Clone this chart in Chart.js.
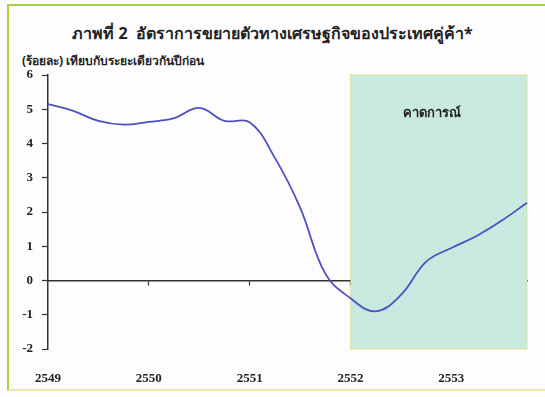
<!DOCTYPE html>
<html>
<head>
<meta charset="utf-8">
<script src="https://cdn.jsdelivr.net/npm/chart.js@4.4.1/dist/chart.umd.min.js"></script>
<style>
  html, body { margin: 0; padding: 0; background: #fff; }
  #wrap {
    position: relative; width: 545px; height: 397px; overflow: hidden;
    background: #fdfdfd;
  }
  #frame {
    position: absolute; left: 7px; top: 4px; width: 545px; height: 383px;
    border-left: 2px solid #a9d04a; border-top: 2px solid #a9d04a;
    border-bottom: 2px solid #efe9a8;
  }
  #title {
    position: absolute; left: 0; width: 545px; top: 21px; text-align: center;
    font: bold 16px "Noto Sans", "DejaVu Sans", sans-serif; color: #222;
  }
  #subtitle {
    position: absolute; left: 22px; top: 51px;
    font: bold 12px "Noto Sans", "DejaVu Sans", sans-serif; color: #222;
  }
  canvas { position: absolute; left: 0; top: 0; }
</style>
</head>
<body>
<div id="wrap">
  <div id="frame"></div>
  <div id="title">ภาพที่ 2&nbsp; อัตราการขยายตัวทางเศรษฐกิจของประเทศคู่ค้า*</div>
  <div id="subtitle">(ร้อยละ) เทียบกับระยะเดียวกันปีก่อน</div>
  <canvas id="growthChart" width="545" height="397"></canvas>
</div>
<script>
// quarterly growth of trading partners, %yoy
var quarters = ['Q1/49', 'Q2/49', 'Q3/49', 'Q4/49',
                'Q1/50', 'Q2/50', 'Q3/50', 'Q4/50',
                'Q1/51', 'Q2/51', 'Q3/51', 'Q4/51',
                'Q1/52', 'Q2/52', 'Q3/52', 'Q4/52',
                'Q1/53', 'Q2/53', 'Q3/53', 'Q4/53'];
var years = ['2549', '2550', '2551', '2552', '2553'];
var growth = [5.15, 4.95, 4.66, 4.55,
              4.63, 4.74, 5.04, 4.66,
              4.62, 3.58, 2.13, 0.2,
              -0.52, -0.9, -0.42, 0.55,
              0.95, 1.3, 1.75, 2.27];
var forecastFrom = 'Q1/52';
var forecastLabel = 'คาดการณ์';

var serif = '"Liberation Serif", "DejaVu Serif", serif';

// shaded forecast box behind the line
var forecastBox = {
    id: 'forecastBox',
    beforeDatasetsDraw: function(chart) {
        var ctx = chart.ctx;
        var x = chart.scales.x;
        var y = chart.scales.y;
        var x1 = x.getPixelForValue(quarters.indexOf(forecastFrom));
        var x2 = x.getPixelForValue(quarters.length - 1);
        var y1 = y.getPixelForValue(y.max);
        var y2 = y.getPixelForValue(y.min);
        ctx.save();
        ctx.fillStyle = '#c7e9e0';
        ctx.fillRect(x1, y1, x2 - x1, y2 - y1);
        ctx.strokeStyle = '#dbe07a';
        ctx.lineWidth = 1.5;
        ctx.setLineDash([1, 1]);
        ctx.strokeRect(x1, y1, x2 - x1, y2 - y1);
        ctx.setLineDash([]);
        ctx.fillStyle = '#222';
        ctx.font = 'bold 13px "Noto Sans", "DejaVu Sans", sans-serif';
        ctx.textAlign = 'center';
        ctx.textBaseline = 'middle';
        ctx.fillText(forecastLabel, (x1 + x2) / 2 - 7, y1 + 38);
        ctx.restore();
    }
};

var canvas = document.getElementById('growthChart');

var lineChart = new Chart(canvas, {
    type: 'line',
    data: {
        labels: quarters,
        datasets: [{
            data: growth,
            borderColor: '#4f4fc2',
            borderWidth: 1.8,
            tension: 0.4,
            pointRadius: 0,
            fill: false
        }]
    },
    options: {
        responsive: false,
        animation: false,
        layout: { padding: { left: 8, right: 18, top: 75, bottom: 10 } },
        plugins: { legend: { display: false }, tooltip: { enabled: false } },
        scales: {
            // axis line through zero with year tick marks
            x: {
                type: 'category',
                position: { y: 0 },
                offset: false,
                border: { color: '#333', width: 1.5 },
                grid: {
                    drawOnChartArea: false,
                    tickLength: 4,
                    tickWidth: 1.2,
                    tickColor: function(c) { return c.index % 4 === 0 && c.index > 0 ? '#333' : 'rgba(0,0,0,0)'; }
                },
                ticks: { display: false, autoSkip: false }
            },
            // year labels along the bottom
            xb: {
                type: 'category',
                position: 'bottom',
                offset: false,
                border: { display: false },
                grid: { display: false },
                ticks: {
                    autoSkip: false,
                    maxRotation: 0,
                    padding: 14,
                    color: '#222',
                    font: { family: serif, size: 13, weight: 'bold' },
                    callback: function(v, i) { return i % 4 === 0 ? years[i / 4] : ''; }
                },
                afterFit: function(scale) { scale.height = 38; }
            },
            y: {
                min: -2,
                max: 6,
                border: { color: '#333', width: 1.5 },
                grid: { drawOnChartArea: false, tickLength: 6, tickColor: '#333', tickWidth: 1.2 },
                ticks: {
                    stepSize: 1,
                    padding: 9,
                    color: '#222',
                    font: { family: serif, size: 13, weight: 'bold' }
                },
                afterFit: function(scale) { scale.width = 40; }
            }
        }
    },
    plugins: [forecastBox]
});
</script>
</body>
</html>
